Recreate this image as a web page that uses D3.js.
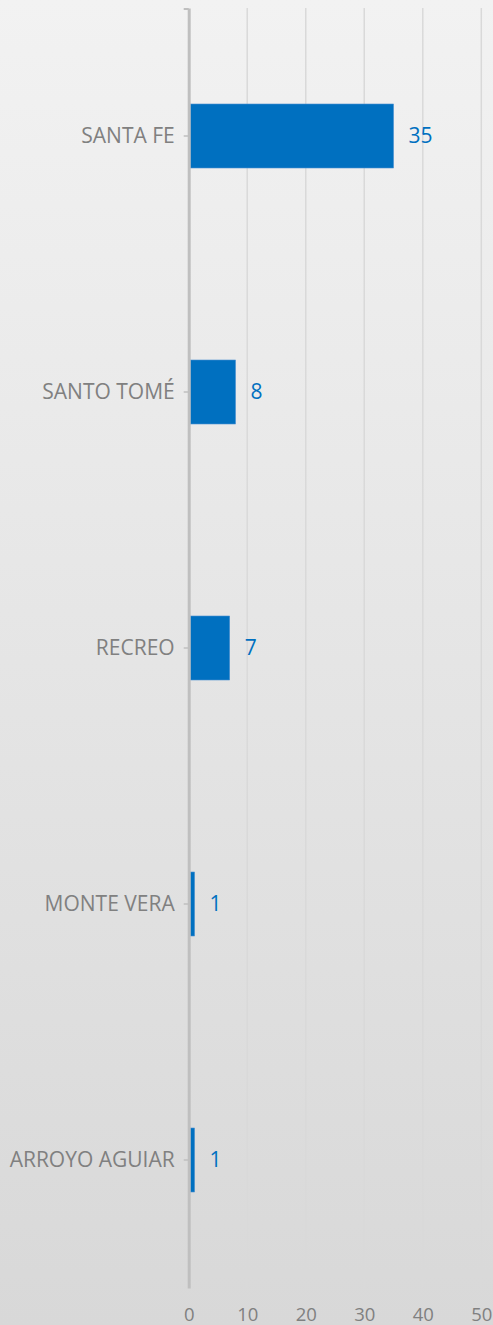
<!DOCTYPE html>
<html>
<head>
<meta charset="utf-8">
<script src="https://cdn.jsdelivr.net/npm/d3@7"></script>
<style>
  html, body { margin: 0; padding: 0; }
  svg { display: block; font-family: "Open Sans", sans-serif; }
</style>
</head>
<body>
<div id="chart"></div>
<script>
const categories = ['SANTA FE', 'SANTO TOMÉ', 'RECREO', 'MONTE VERA', 'ARROYO AGUIAR']
const values = [35, 8, 7, 1, 1]
const xTicks = [0, 10, 20, 30, 40, 50]

const W = 493, H = 1325
const margin = {top: 8, right: 12, bottom: 37, left: 188.7}
const width = W - margin.left - margin.right
const height = H - margin.top - margin.bottom

const svg = d3.select('#chart').append('svg')
	.attr('width', W).attr('height', H)

const grad = svg.append('defs').append('linearGradient')
	.attr('id', 'bg').attr('x1', 0).attr('y1', 0).attr('x2', 0).attr('y2', 1)
grad.append('stop').attr('offset', '0%').attr('stop-color', '#f2f2f2')
grad.append('stop').attr('offset', '100%').attr('stop-color', '#d8d8d8')

svg.append('rect').attr('width', W).attr('height', H).attr('fill', 'url(#bg)')

const chart = svg.append('g').attr('transform', `translate(${margin.left},${margin.top})`)

const x = d3.scaleLinear().domain([0, 50]).range([0, 292.6])
const y = d3.scaleBand().domain(categories).range([0, height]).paddingInner(0.75).paddingOuter(0.375)

// gridlines
chart.append('g')
	.selectAll('line')
	.data(xTicks.slice(1))
	.join('line')
	.attr('x1', d => x(d)).attr('x2', d => x(d))
	.attr('y1', 0).attr('y2', height)
	.attr('stroke', '#d9d9d9').attr('stroke-width', 1.5)

// x axis labels
const xAxis = chart.append('g')
	.attr('transform', `translate(0,${height})`)
	.call(d3.axisBottom(x).tickValues(xTicks).tickSize(0).tickPadding(20))
xAxis.select('.domain').remove()
xAxis.selectAll('text')
	.attr('fill', '#808080').attr('font-size', 18.5)
	.attr('font-family', '"Open Sans", sans-serif')

// bars
chart.selectAll('.bar')
	.data(values)
	.join('rect')
	.attr('class', 'bar')
	.attr('x', 1.5)
	.attr('y', (d, i) => y(categories[i]))
	.attr('width', d => x(d) - 1.5)
	.attr('height', y.bandwidth())
	.attr('fill', '#0070c0')
	.attr('stroke', '#4a90d0').attr('stroke-width', 0.6)

// data labels
chart.selectAll('.val')
	.data(values)
	.join('text')
	.attr('class', 'val')
	.attr('x', d => x(d) + 15)
	.attr('y', (d, i) => y(categories[i]) + y.bandwidth() / 2)
	.attr('dy', '0.35em')
	.attr('fill', '#0070c0').attr('font-size', 21)
	.text(d => d)

// y axis
const yAxis = chart.append('g')
	.call(d3.axisLeft(y).tickSize(5).tickSizeOuter(0).tickPadding(9))
yAxis.select('.domain').attr('stroke', '#bfbfbf').attr('stroke-width', 3)
yAxis.selectAll('.tick line').attr('stroke', '#bfbfbf').attr('stroke-width', 1.5)
yAxis.selectAll('text')
	.attr('fill', '#808080').attr('font-size', 21)
	.attr('font-family', '"Open Sans", sans-serif')

// small cap at the top of the category axis
yAxis.append('line')
	.attr('x1', -5).attr('x2', 0)
	.attr('y1', y.range()[0] + 1).attr('y2', y.range()[0] + 1)
	.attr('stroke', '#bfbfbf').attr('stroke-width', 2)
</script>
</body>
</html>
